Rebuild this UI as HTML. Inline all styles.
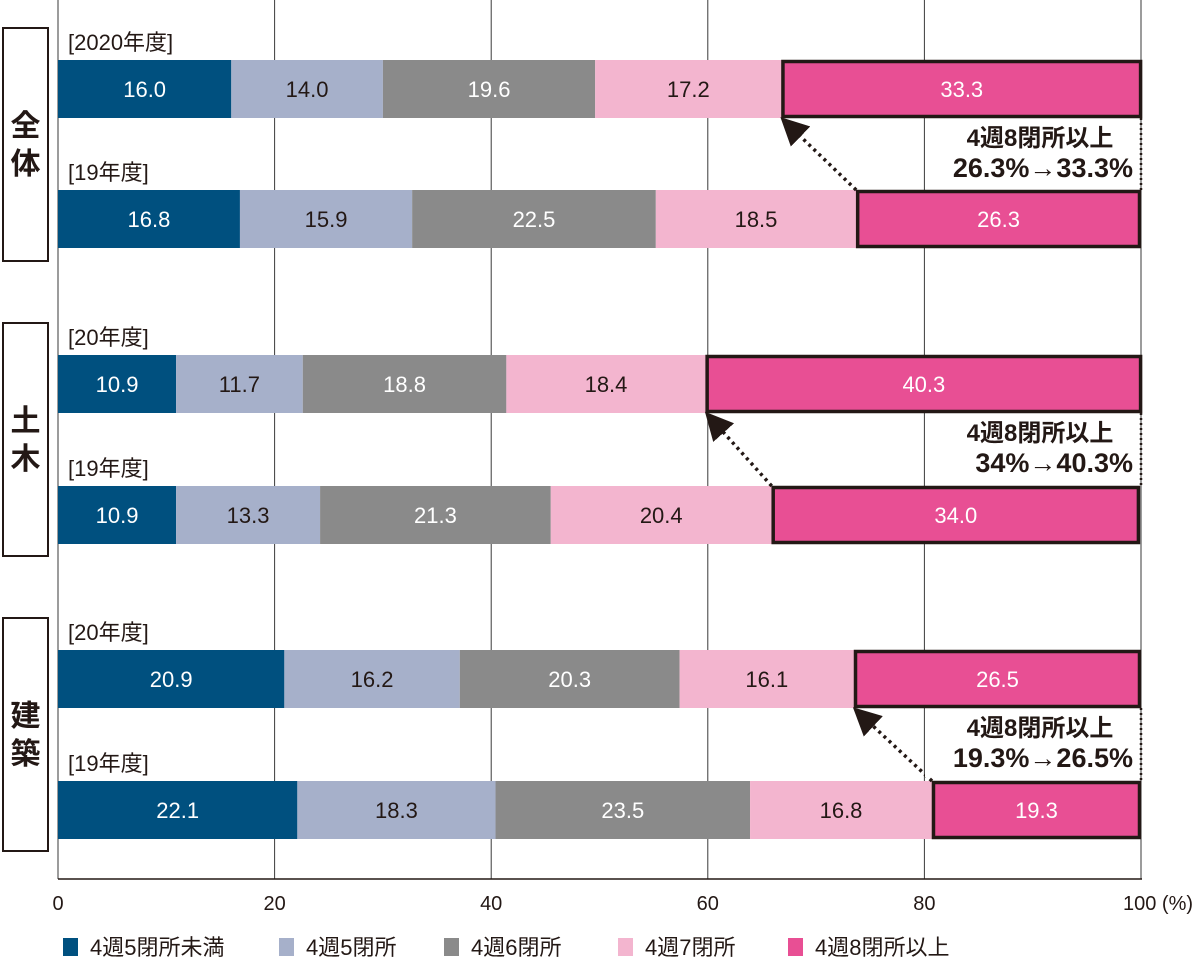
<!DOCTYPE html>
<html><head><meta charset="utf-8"><style>
body{margin:0;background:#fff;}
svg{display:block;font-family:"Liberation Sans","Noto Sans CJK JP",sans-serif;}
</style></head><body>
<svg id="chart" width="1200" height="961"></svg>
<script>
const categories = ["4週5閉所未満","4週5閉所","4週6閉所","4週7閉所","4週8閉所以上"];
const rowLabels = ["[2020年度]","[19年度]","[20年度]","[19年度]","[20年度]","[19年度]"];
const groupLabels = ["全体","土木","建築"];
const rowAll20 = [16.0,14.0,19.6,17.2,33.3];
const rowAll19 = [16.8,15.9,22.5,18.5,26.3];
const rowCivil20 = [10.9,11.7,18.8,18.4,40.3];
const rowCivil19 = [10.9,13.3,21.3,20.4,34.0];
const rowBuild20 = [20.9,16.2,20.3,16.1,26.5];
const rowBuild19 = [22.1,18.3,23.5,16.8,19.3];
const annotations = [["4週8閉所以上","26.3%→33.3%"],["4週8閉所以上","34%→40.3%"],["4週8閉所以上","19.3%→26.5%"]];
const ticks = [0,20,40,60,80,100];

const rows=[rowAll20,rowAll19,rowCivil20,rowCivil19,rowBuild20,rowBuild19];
const colors=["#00507f","#a6b0ca","#8a8a8a","#f3b5cf","#e84f94"];
const textCol=["#fff","#231815","#fff","#231815","#fff"];
const rowY=[60,190,355,486,650,781], barH=58;
const X=v=>58+v*10.83;
const NS="http://www.w3.org/2000/svg";
const svg=document.getElementById("chart");
function mk(tag,attrs,parent){const e=document.createElementNS(NS,tag);for(const k in attrs)e.setAttribute(k,attrs[k]);(parent||svg).appendChild(e);return e;}

// grid
ticks.forEach((t,i)=>{
  const l=mk("line",{x1:X(t),x2:X(t),y1:0,y2:879,stroke:"#3a3a3a","stroke-width":1});
  
  
  const tx=mk("text",{x:X(t),y:910,"font-size":20,fill:"#231815","text-anchor":"middle"});
  tx.textContent=t===100?"100 (%)":String(t);
  if(t===100){tx.setAttribute("text-anchor","start");tx.setAttribute("x",X(t)-18);}
  
  
});
const ax=mk("line",{x1:58,x2:1142,y1:879,y2:879,stroke:"#231815","stroke-width":1.5});



// group label boxes
groupLabels.forEach((g,i)=>{
  const y0=[28,323,618][i];
  const r=mk("rect",{x:3,y:y0,width:45,height:233,fill:"#fff",stroke:"#231815","stroke-width":2});
  
  
  [...g].forEach((ch,j)=>{
    const t=mk("text",{x:25.5,y:y0+116+(j===0?-8:30),"font-size":30,"font-weight":"bold",fill:"#231815","text-anchor":"middle"});
    t.textContent=ch;
    
    
  });
});

// bars
rows.forEach((row,ri)=>{
  const y=rowY[ri];
  const lab=mk("text",{x:68,y:y-10,"font-size":22,fill:"#231815"});
  lab.textContent=rowLabels[ri];
  
  
  let cum=0;
  row.forEach((v,ci)=>{
    const x0=X(cum),x1=X(Math.min(cum+v,100.1));
    const r=mk("rect",{x:x0,y:y,width:x1-x0,height:barH,fill:colors[ci]});
    if(ci===4){r.setAttribute("stroke","#231815");r.setAttribute("stroke-width",3.5);r.setAttribute("x",x0+1.5);r.setAttribute("width",x1-x0-3);r.setAttribute("y",y+1.5);r.setAttribute("height",barH-3);}
    
    
    const t=mk("text",{x:(x0+x1)/2,y:y+barH/2+8,"font-size":22,fill:textCol[ci],"text-anchor":"middle"});
    t.textContent=v.toFixed(1);
    
    
    cum+=v;
  });
});

// annotations
mk("defs",{}).innerHTML='<marker id="ah" markerWidth="8" markerHeight="8" refX="6" refY="4" orient="auto"><path d="M0,0 L8,4 L0,8 z" fill="#231815"/></marker>';
annotations.forEach((a,i)=>{
  const top=rows[i*2], bot=rows[i*2+1];
  const yt=rowY[i*2]+barH, yb=rowY[i*2+1];
  const sTop=top.slice(0,4).reduce((p,c)=>p+c,0), sBot=bot.slice(0,4).reduce((p,c)=>p+c,0);
  const ar=mk("line",{x1:X(sBot),y1:yb,x2:X(sTop)+4,y2:yt+4,stroke:"#231815","stroke-width":3.5,"stroke-dasharray":"3,4","marker-end":"url(#ah)"});
  
  
  const dl=mk("line",{x1:1141,x2:1141,y1:yt,y2:yb,stroke:"#231815","stroke-width":2.5,"stroke-dasharray":"2,3"});
  
  
  const bg=mk("rect",{x:925,y:yt+4,width:208,height:yb-yt-8,fill:"#fff"});
  
  
  a.forEach((s,j)=>{
    const t=mk("text",{x:j===0?1040:1133,y:yt+28+j*31,"font-size":j===0?24:27,"font-weight":"bold",fill:"#231815","text-anchor":j===0?"middle":"end"});
    t.textContent=s;
    
    
  });
});

// legend
const lx=[63,279,444,618,788];
categories.forEach((c,i)=>{
  const r=mk("rect",{x:lx[i],y:938,width:15,height:18,fill:colors[i]});
  
  
  const t=mk("text",{x:lx[i]+27,y:955,"font-size":22,fill:"#231815"});
  t.textContent=c;
  
  
});
</script>
</body></html>
